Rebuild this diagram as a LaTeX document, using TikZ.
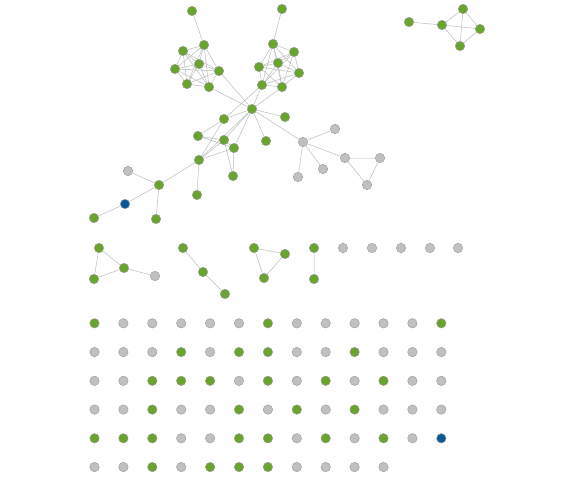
\documentclass[tikz,border=0pt]{standalone}
\usetikzlibrary{backgrounds}
\definecolor{nodegreen}{RGB}{106,163,46}
\definecolor{nodegray}{RGB}{192,192,192}
\definecolor{nodeblue}{RGB}{12,88,148}
\definecolor{edgegray}{RGB}{188,188,188}
\begin{document}
\begin{tikzpicture}[x=1pt,y=-1pt,
	vtx/.style={circle,inner sep=0pt,minimum size=9.5pt,draw=black!40,line width=0.4pt},
	grn/.style={vtx,fill=nodegreen},
	gry/.style={vtx,fill=nodegray},
	blu/.style={vtx,fill=nodeblue},
	lnk/.style={edgegray,line width=0.5pt}]
		\useasboundingbox (0,0) rectangle (575,477);
		% main component
		\node[grn] (t1) at (192,11) {};
		\node[grn] (t2) at (282,9) {};
		\node[grn] (a1) at (204,45) {};
		\node[grn] (a2) at (183,51) {};
		\node[grn] (a3) at (199,64) {};
		\node[grn] (a4) at (175,69) {};
		\node[grn] (a5) at (219,71) {};
		\node[grn] (a6) at (187,84) {};
		\node[grn] (a7) at (209,87) {};
		\node[grn] (b1) at (273,44) {};
		\node[grn] (b2) at (294,52) {};
		\node[grn] (b3) at (278,63) {};
		\node[grn] (b4) at (259,67) {};
		\node[grn] (b5) at (299,73) {};
		\node[grn] (b6) at (262,85) {};
		\node[grn] (b7) at (282,87) {};
		\node[grn] (hub) at (252,109) {};
		\node[grn] (c1) at (224,119) {};
		\node[grn] (c2) at (198,136) {};
		\node[grn] (c3) at (224,140) {};
		\node[grn] (c4) at (234,148) {};
		\node[grn] (c5) at (266,141) {};
		\node[grn] (c6) at (199,160) {};
		\node[grn] (c7) at (233,176) {};
		\node[grn] (c8) at (159,185) {};
		\node[grn] (c9) at (197,195) {};
		\node[grn] (c10) at (285,117) {};
		\node[gry] (s1) at (128,171) {};
		\node[blu] (s2) at (125,204) {};
		\node[grn] (s3) at (94,218) {};
		\node[grn] (s4) at (156,219) {};
		\node[gry] (g0) at (303,142) {};
		\node[gry] (g1) at (335,129) {};
		\node[gry] (g2) at (345,158) {};
		\node[gry] (g3) at (380,158) {};
		\node[gry] (g4) at (367,185) {};
		\node[gry] (g5) at (323,169) {};
		\node[gry] (g6) at (298,177) {};
		% top right
		\node[grn] (d0) at (409,22) {};
		\node[grn] (d1) at (442,25) {};
		\node[grn] (d2) at (463,9) {};
		\node[grn] (d3) at (480,29) {};
		\node[grn] (d4) at (460,46) {};
		% small components
		\node[grn] (e1) at (99,248) {};
		\node[grn] (e2) at (124,268) {};
		\node[grn] (e3) at (94,279) {};
		\node[gry] (e4) at (155,276) {};
		\node[grn] (f1) at (183,248) {};
		\node[grn] (f2) at (203,272) {};
		\node[grn] (f3) at (225,294) {};
		\node[grn] (h1) at (254,248) {};
		\node[grn] (h2) at (285,254) {};
		\node[grn] (h3) at (264,278) {};
		\node[grn] (i1) at (314,248) {};
		\node[grn] (i2) at (314,279) {};
		\foreach \x [count=\k] in {343,372,401,430,458}
			\node[gry] (z\k) at (\x,248) {};
		% isolated grid
		\foreach \r/\lst in {0/{grn,gry,gry,gry,gry,gry,grn,gry,gry,gry,gry,gry,grn},
			1/{gry,gry,gry,grn,gry,grn,grn,gry,gry,grn,gry,gry,gry},
			2/{gry,gry,grn,grn,grn,gry,grn,gry,grn,gry,grn,gry,gry},
			3/{gry,gry,grn,gry,gry,grn,gry,grn,gry,grn,gry,gry,gry},
			4/{grn,grn,grn,gry,gry,grn,grn,gry,grn,gry,grn,gry,blu},
			5/{gry,gry,grn,gry,grn,grn,grn,gry,gry,gry,gry}}
			\foreach \c [count=\i from 0] in \lst
				\node[\c] (q-\r-\i) at ({94.5+28.9*\i},{323.3+28.75*\r}) {};
		\begin{scope}[on background layer]
		\draw[lnk] (t1)--(a1) (t2)--(b1);
		\foreach \u/\vs in {a1/{a2,a3,a4,a5,a6,a7},a2/{a3,a4,a5,a6,a7},a3/{a4,a5,a6,a7},
			a4/{a5,a6,a7},a5/{a6,a7},a6/{a7},
			b1/{b2,b3,b4,b5,b6,b7},b2/{b3,b4,b5,b6,b7},b3/{b4,b5,b6,b7},
			b4/{b5,b6,b7},b5/{b6,b7},b6/{b7}}
			\foreach \v in \vs
				\draw[lnk] (\u)--(\v);
		\foreach \v in {a5,a7,b6,b7,c1,c3,c4,c5,c6,c10,g0}
			\draw[lnk] (hub)--(\v);
		\draw[lnk] (c1)--(b6) (c1)--(c2) (c1)--(c6) (c2)--(c3) (c2)--(c4)
			(c3)--(c4) (c3)--(c6) (c4)--(c6) (c3)--(c7) (c4)--(c7)
			(c6)--(c9) (c6)--(c8) (c8)--(s1) (c8)--(s2) (s2)--(s3) (c8)--(s4);
		\draw[lnk] (g0)--(g1) (g0)--(g2) (g0)--(g5) (g0)--(g6)
			(g2)--(g3) (g2)--(g4) (g3)--(g4);
		\draw[lnk] (d0)--(d1) (d1)--(d2) (d1)--(d3) (d1)--(d4)
			(d2)--(d3) (d2)--(d4) (d3)--(d4);
		\draw[lnk] (e1)--(e2) (e1)--(e3) (e2)--(e3) (e2)--(e4)
			(f1)--(f2) (f2)--(f3) (h1)--(h2) (h1)--(h3) (h2)--(h3) (i1)--(i2);
		\end{scope}
\end{tikzpicture}
\end{document}
